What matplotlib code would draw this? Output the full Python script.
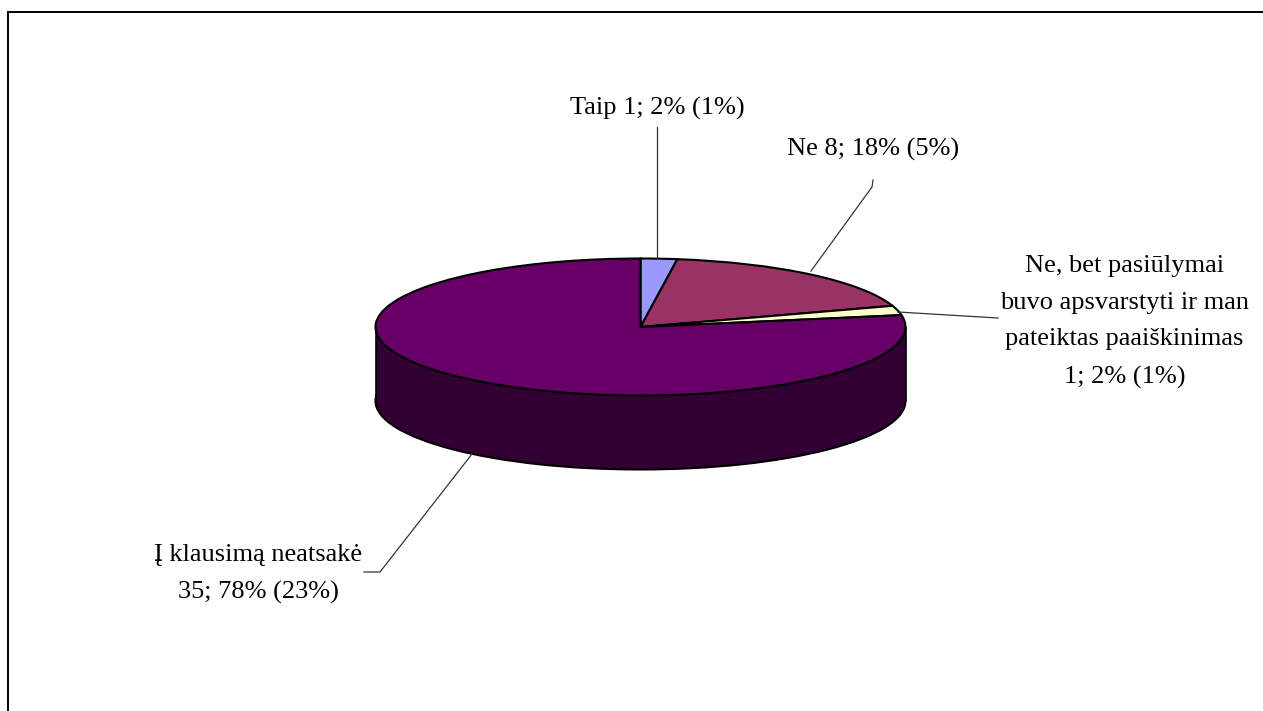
from matplotlib import pyplot as plt

labels = ["Taip", "Ne", "Ne, bet pasiūlymai", "Į klausimą neatsakė"]
counts = [1, 8, 1, 35]
colors = ["#9999FF", "#993366", "#FFFFCC", "#660066"]
side_color = "#330033"
label_texts = [
    "Taip 1; 2% (1%)",
    "Ne 8; 18% (5%)",
    "Ne, bet pasiūlymai\nbuvo apsvarstyti ir man\npateiktas paaiškinimas\n1; 2% (1%)",
    "Į klausimą neatsakė\n35; 78% (23%)",
]

W, H = 1263, 711
plt.rcParams["font.family"] = ["Liberation Serif", "DejaVu Serif"]
fig = plt.figure(figsize=(W / 100, H / 100), dpi=100, facecolor="white")

# overlay in pixel coords for the frame, leaders and labels
over = fig.add_axes([0, 0, 1, 1], zorder=3)
over.set_xlim(0, W)
over.set_ylim(H, 0)
over.axis("off")
over.patch.set_alpha(0)

# flattened pie: radius 1 is 265 px wide and 68.5 px high, side is 74 px deep
rx, ry, depth = 265, 68.5, 74
cx, cy = 640.5, 327
ax = fig.add_axes([(cx - rx) / W, 1 - (cy + ry + depth) / H, 2 * rx / W, (2 * ry + depth) / H], zorder=2)
d = depth / ry
edge = dict(edgecolor="black", linewidth=1.5)

bottom, _ = ax.pie([1], colors=[side_color], center=(0, -d), wedgeprops=edge)
ax.fill_between([-1, 1], [0, 0], [-d, -d], color=side_color, linewidth=0)
ax.plot([-1, -1], [0, -d], color="black", lw=1.2, solid_capstyle="butt", clip_on=False)
ax.plot([1, 1], [0, -d], color="black", lw=1.2, solid_capstyle="butt", clip_on=False)
top, _ = ax.pie(counts, colors=colors, startangle=90, counterclock=False, wedgeprops=edge)
for w in list(bottom) + list(top):
    w.set_clip_on(False)
ax.set_aspect("auto")
ax.set_xlim(-1, 1)
ax.set_ylim(-1 - d, 1)
ax.axis("off")

# chart frame: only top and left are inside the picture
over.plot([8, 8, W], [H, 12, 12], color="black", lw=1.4, solid_joinstyle="miter")

# leader lines
leader = dict(color="#333333", lw=0.9)
over.plot([656.5, 656.5], [127, 258], **leader)
over.plot([811, 872, 873], [271, 187, 180], **leader)
over.plot([898, 998], [312, 318], **leader)
over.plot([472, 380, 364], [454, 572, 572], **leader)

# data labels
fs = 19
over.text(657.5, 108, label_texts[0], fontsize=fs, ha="center", va="center")
over.text(873, 149, label_texts[1], fontsize=fs, ha="center", va="center")
over.text(1124.5, 322, label_texts[2], fontsize=fs, ha="center", va="center", linespacing=1.86)
over.text(258.5, 574, label_texts[3], fontsize=fs, ha="center", va="center", linespacing=1.86)

fig.savefig("out.png", dpi=100)
